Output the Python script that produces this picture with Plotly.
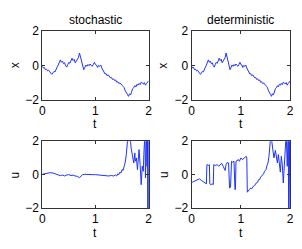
import plotly.graph_objects as go

# ---- data ----
t_x = [round(0.02 * i, 2) for i in range(101)]
x_path = [-0.05, -0.15, -0.12, -0.25, -0.22, -0.32, -0.28, -0.40, -0.45, -0.52,
          -0.42, -0.35, -0.38, -0.18, -0.10, 0.02, 0.15, 0.32, 0.18, 0.25,
          0.10, 0.15, -0.02, -0.10, 0.05, 0.18, 0.12, 0.30, 0.42, 0.28,
          0.35, 0.15, 0.25, 0.38, 0.45, 0.72, 0.45, 0.30, 0.05, -0.25,
          -0.12, 0.02, -0.05, 0.05, -0.02, 0.08, 0.00, -0.05, 0.05, 0.18,
          0.05, 0.02, -0.12, 0.00, -0.05, 0.02, -0.15, -0.30, -0.45, -0.50,
          -0.48, -0.60, -0.55, -0.68, -0.72, -0.70, -0.82, -0.78, -0.88, -0.85,
          -0.98, -0.95, -1.05, -1.02, -1.12, -1.15, -1.22, -1.30, -1.48, -1.55,
          -1.68, -1.80, -1.65, -1.72, -1.50, -1.35, -1.30, -1.18, -1.25, -1.10,
          -1.15, -1.05, -1.12, -0.98, -1.02, -1.08, -1.00, -1.15, -1.05, -1.00,
          -0.90]

t_u_sto = [0, 0.05, 0.1, 0.15, 0.2, 0.25, 0.3, 0.34, 0.38, 0.42, 0.46, 0.5, 0.54, 0.58,
           0.62, 0.66, 0.70, 0.73, 0.76, 0.80, 0.85, 0.9, 0.95, 1.0, 1.05, 1.1, 1.15, 1.2,
           1.25, 1.3, 1.34, 1.38, 1.40, 1.42, 1.44, 1.46, 1.48, 1.50, 1.52, 1.54, 1.56,
           1.58, 1.60, 1.61, 1.63, 1.65, 1.67, 1.69, 1.70, 1.72, 1.74, 1.75, 1.77, 1.79,
           1.81, 1.82, 1.84, 1.86, 1.88, 1.90, 1.91, 1.93, 1.94, 1.95, 1.96, 1.97, 1.98,
           1.985, 1.99, 2.0]
u_sto = [0.02, 0.05, 0.08, 0.12, 0.10, 0.05, -0.02, -0.06, -0.02, -0.08, -0.02, 0.0, -0.05,
         -0.03, -0.08, -0.10, -0.18, -0.08, 0.0, 0.02, 0.0, -0.02, 0.0, 0.0, -0.02, 0.0, -0.02,
         -0.05, -0.08, -0.05, -0.08, -0.02, -0.08, 0.05, 0.0, 0.15, 0.10, 0.30, 0.25, 0.50,
         0.75, 1.2, 1.7, 2.3, 2.0, 2.5, 1.6, 1.2, 1.05, 0.7, 1.3, 0.8, 1.0, 0.3, 1.1, 1.5,
         0.6, -0.6, 0.5, 0.2, 1.2, 2.5, -0.2, 1.5, 2.5, 0.5, 2.5, -2.5, 2.5, -2.5]

t_u_det = [0, 0.02, 0.05, 0.08, 0.12, 0.16, 0.2, 0.23, 0.27, 0.30, 0.31, 0.34, 0.36, 0.37,
           0.39, 0.42, 0.44, 0.45, 0.48, 0.52, 0.55, 0.58, 0.61, 0.64, 0.68, 0.70, 0.72,
           0.75, 0.77, 0.79, 0.81, 0.83, 0.86, 0.88, 0.89, 0.90, 0.93, 0.95, 0.97, 1.0,
           1.03, 1.06, 1.09, 1.11, 1.12, 1.13, 1.15, 1.17, 1.20, 1.22, 1.25, 1.28, 1.31,
           1.34, 1.36, 1.38, 1.40, 1.42, 1.44, 1.46, 1.48, 1.51, 1.53, 1.55, 1.57, 1.59,
           1.61, 1.63, 1.65, 1.67, 1.70, 1.72, 1.74, 1.76, 1.78, 1.80, 1.82, 1.84, 1.86,
           1.88, 1.90, 1.92, 1.94, 1.96, 1.97, 1.98, 1.99, 2.0]
u_det = [-0.4, -0.45, -0.4, -0.35, -0.3, -0.25, -0.35, -0.42, -0.5, -0.55, 0.6, 0.55, 0.6,
         -0.55, -0.6, -0.55, -0.6, 0.6, 0.55, 0.6, 0.5, 0.6, 0.68, 0.5, 0.25, 0.6, 0.72,
         0.7, -0.8, -0.75, 0.8, 0.75, 0.8, -0.9, -0.85, 0.8, 0.85, 0.9, 0.8, 1.0,
         0.9, 0.95, 1.05, 1.1, 1.0, -1.05, -0.95, -0.9, -0.8, -0.85, -0.7, -0.65, -0.5,
         -0.45, -0.3, -0.3, -0.15, -0.1, 0.0, 0.05, 0.2, 0.3, 0.55, 0.7, 1.1, 1.6,
         2.5, 1.9, 1.2, 1.0, 1.45, 0.9, 0.7, 1.2, 0.6, 0.15, 1.1, 0.6, -0.5,
         0.3, 1.2, 2.5, 0.5, 2.5, -2.5, 2.5, 1.0, -2.5]

titles = ["stochastic", "deterministic"]
y_labels = ["x", "u"]
x_ticks = [0, 1, 2]
y_ticks = [-2, 0, 2]

# ---- layout geometry ----
# the page body has an 8px margin, so the figure starts at window pixel (8, 8)
OFFX, OFFY = 8, 8
W, H = 294, 241


def px(X):
    return (X - OFFX) / W


def py(Y):
    return 1 - (Y - OFFY) / H


xdom = [[px(40), px(149)], [px(193), px(294)]]
ydom = [[py(98), py(25)], [py(213), py(142)]]

FONT = "Liberation Sans, Arial, sans-serif"
LINE = "rgb(30,50,255)"
AX = "#333"

fig = go.Figure()
series = [(t_x, x_path, 0, 0), (t_x, x_path, 1, 0), (t_u_sto, u_sto, 0, 1), (t_u_det, u_det, 1, 1)]
for i, (tt, yy, c, r) in enumerate(series):
    n = i + 1
    sx = f"x{n}" if n > 1 else "x"
    sy = f"y{n}" if n > 1 else "y"
    fig.add_trace(go.Scatter(x=tt, y=yy, mode="lines", line=dict(color=LINE, width=1),
                             xaxis=sx, yaxis=sy, showlegend=False, hoverinfo="skip"))
    common = dict(showline=True, linecolor=AX, linewidth=1, mirror="allticks", ticks="inside",
                  ticklen=3, tickcolor=AX, showgrid=False, zeroline=False, fixedrange=True,
                  tickfont=dict(family=FONT, size=12, color="black"))
    fig.layout["xaxis" + (str(n) if n > 1 else "")] = dict(range=[0, 2], tickvals=x_ticks,
                                                           domain=xdom[c], anchor=sy, **common)
    fig.layout["yaxis" + (str(n) if n > 1 else "")] = dict(range=[-2, 2], tickvals=y_ticks,
                                                           domain=ydom[r], anchor=sx, **common)

ann = []
tf = dict(family=FONT, size=12, color="black")
for c in range(2):
    xc = (xdom[c][0] + xdom[c][1]) / 2
    ann.append(dict(text=titles[c], x=xc, y=py(13), xref="paper", yref="paper",
                    xanchor="center", yanchor="middle", showarrow=False, font=tf))
    for r in range(2):
        yc = (ydom[r][0] + ydom[r][1]) / 2
        lx = px(12) if c == 0 else px(164)
        ann.append(dict(text=y_labels[r], x=lx, y=yc, xref="paper", yref="paper",
                        xanchor="center", yanchor="middle",
                        textangle=-90, showarrow=False, font=tf))
        ly = py(124) if r == 0 else py(239)
        ann.append(dict(text="t", x=xc, y=ly, xref="paper", yref="paper",
                        xanchor="center", yanchor="middle", showarrow=False, font=tf))

fig.update_layout(width=W, height=H, margin=dict(l=0, r=0, t=0, b=0),
                  paper_bgcolor="white", plot_bgcolor="white", annotations=ann)
fig.write_html("out.html")
